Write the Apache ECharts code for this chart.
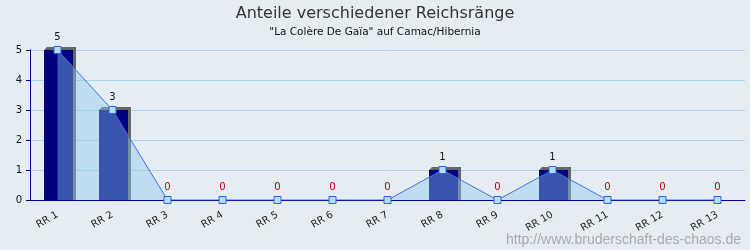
<!DOCTYPE html>
<html>
<head>
<meta charset="utf-8">
<script src="https://cdn.jsdelivr.net/npm/echarts@6/dist/echarts.min.js"></script>
<style>
  html, body { margin: 0; padding: 0; background: #e6ecf4; }
  #chart { width: 750px; height: 250px; }
</style>
</head>
<body>
<div id="chart"></div>
<script>
const categories = ['RR 1', 'RR 2', 'RR 3', 'RR 4', 'RR 5', 'RR 6', 'RR 7',
  'RR 8', 'RR 9', 'RR 10', 'RR 11', 'RR 12', 'RR 13']
const counts = [5, 3, 0, 0, 0, 0, 0, 1, 0, 1, 0, 0, 0]
const yTicks = [0, 1, 2, 3, 4, 5]

const FONT = '"DejaVu Sans", sans-serif'
const BAR_W = 29
const DEPTH = 3
const chart = echarts.init(document.getElementById('chart'), null, { renderer: 'canvas' })

// 3D-ish bar: front face plus a grey top and right side
function renderBar(params, api) {
  const v = api.value(1)
  if (!v) return null
  const top = api.coord([api.value(0), v])
  const base = api.coord([api.value(0), 0])
  const l = top[0] - BAR_W / 2 + 1
  const r = l + BAR_W
  return {
    type: 'group',
    children: [
      {
        type: 'polygon',
        shape: { points: [[l, top[1]], [l + DEPTH, top[1] - DEPTH], [r + DEPTH, top[1] - DEPTH],
          [r + DEPTH, base[1]], [r, base[1]], [r, top[1]]] },
        style: { fill: '#666666' },
      },
      {
        type: 'rect',
        shape: { x: l, y: top[1], width: BAR_W, height: base[1] - top[1] },
        style: { fill: '#000080' },
      },
    ],
  }
}

chart.setOption({
  backgroundColor: '#e6ecf4',
  animation: false,
  textStyle: { fontFamily: FONT },
  title: {
    text: 'Anteile verschiedener Reichsränge',
    subtext: '"La Colère De Gaïa" auf Camac/Hibernia',
    left: 'center',
    top: 1,
    itemGap: 5,
    textStyle: { fontSize: 16, fontWeight: 'normal', color: '#333', fontFamily: FONT },
    subtextStyle: { fontSize: 10.5, color: '#111', fontFamily: FONT },
  },
  grid: { left: 30, right: 5, top: 50, bottom: 50 },
  xAxis: {
    type: 'category',
    data: categories,
    boundaryGap: true,
    axisLine: { lineStyle: { color: '#00008b', width: 1 } },
    axisTick: { inside: true, length: 5, lineStyle: { color: '#00008b' } },
    axisLabel: { rotate: 30, fontSize: 10, color: '#222', margin: 14, fontFamily: FONT },
  },
  yAxis: {
    type: 'value',
    min: yTicks[0],
    max: yTicks[yTicks.length - 1],
    interval: 1,
    axisLine: { show: true, lineStyle: { color: '#00008b' } },
    axisTick: { show: true, length: 4, lineStyle: { color: '#00008b' } },
    axisLabel: { fontSize: 10, color: '#111', margin: 8, fontFamily: FONT },
    splitLine: { lineStyle: { color: '#a6d8ea', width: 1 } },
  },
  graphic: [{
    type: 'text',
    right: 9,
    bottom: 3,
    style: {
      text: 'http://www.bruderschaft-des-chaos.de',
      fill: '#aaaaaa',
      fontSize: 14,
      fontFamily: '"Liberation Sans", sans-serif',
    },
  }],
  series: [
    {
      type: 'custom',
      data: counts.map((v, i) => [i, v]),
      renderItem: renderBar,
      encode: { x: 0, y: 1 },
    },
    {
      type: 'line',
      data: counts,
      symbol: 'rect',
      symbolSize: 7,
      lineStyle: { color: '#4a6ee0', width: 1 },
      itemStyle: { color: '#aee0f4', borderColor: '#3a5fe0', borderWidth: 1 },
      areaStyle: { color: 'rgba(135,200,235,0.6)' },
      label: {
        show: true,
        position: 'top',
        distance: 4,
        fontSize: 10,
        formatter: p => p.value === 0 ? '{r|0}' : '{b|' + p.value + '}',
        rich: {
          r: { color: '#c00000', fontSize: 10, fontFamily: FONT },
          b: { color: '#111', fontSize: 10, fontFamily: FONT },
        },
      },
      z: 3,
    },
  ],
})
</script>
</body>
</html>
